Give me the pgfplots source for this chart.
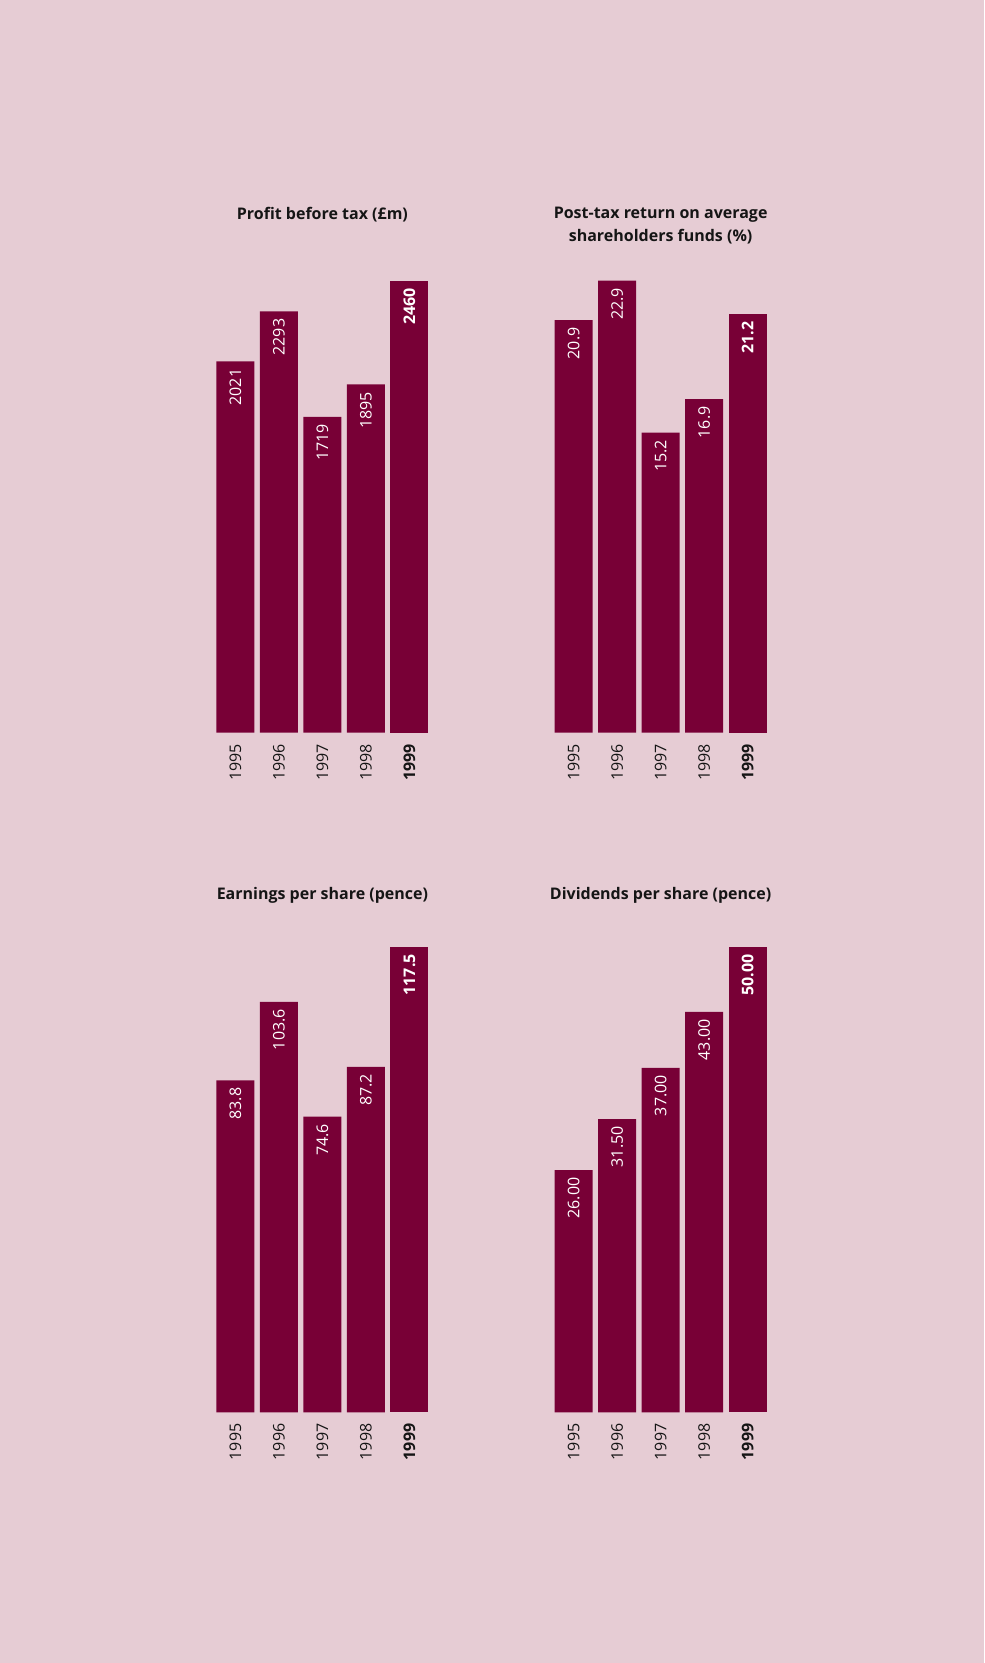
\documentclass[border=0pt]{standalone}
\usepackage{pgfplots}
\pgfplotsset{compat=1.18}
\usepackage{fontspec}
\setmainfont{Open Sans}
\definecolor{bg}{HTML}{E6CCD4}
\definecolor{barc}{HTML}{780036}
\definecolor{ink}{HTML}{151515}
\pgfplotsset{
  panel/.style={
    scale only axis, width=106.1pt, anchor=south west,
    ymin=0, xmin=-0.439, xmax=4.439, enlargelimits=false,
    ybar, bar width=0.878, bar shift=0pt,
    axis line style={draw=none}, major tick length=0pt, ytick=\empty,
    xtick={0,1,2,3,4}, xticklabels={1995,1996,1997,1998,\textbf{1999}},
    xticklabel style={rotate=90, anchor=east, inner xsep=5.5pt, inner ysep=0pt,
      font=\fontsize{8}{9.6}\selectfont, text=ink},
    clip=false,
    title style={at={(0.5,1)}, anchor=center, align=center,
      font=\fontsize{8}{11.1}\selectfont\bfseries, text=ink},
    nodes near coords, point meta=explicit symbolic,
    every node near coord/.append style={rotate=90, anchor=east, inner xsep=3.5pt,
      inner ysep=0pt, font=\fontsize{8}{9.6}\selectfont, text=white},
  },
  barstyle/.style={fill=barc, draw=none, bar shift=0pt},
  boldbar/.style={fill=barc, draw=none, bar shift=0pt,
    every node near coord/.append style={font=\fontsize{8}{9.6}\selectfont\bfseries}},
}
\begin{document}
\begin{tikzpicture}
\fill[bg] (0,0) rectangle (492pt,831.5pt);

% Profit before tax
\begin{axis}[panel, at={(108.15pt,465.15pt)}, height=226pt, ymax=2460,
  title={Profit before tax (\pounds m)}, title style={yshift=27.1pt}]
\addplot[barstyle] coordinates {(0,2021) [2021] (1,2293) [2293] (2,1719) [1719] (3,1895) [1895]};
\addplot[boldbar] coordinates {(4,2460) [2460]};
\end{axis}

% Post-tax return
\begin{axis}[panel, at={(277.25pt,465.15pt)}, height=226pt, ymax=22.9,
  title={Post-tax return on average\\shareholders funds (\%)}, title style={yshift=21.6pt}]
\addplot[barstyle] coordinates {(0,20.9) [20.9] (1,22.9) [22.9] (2,15.2) [15.2] (3,16.9) [16.9]};
\addplot[boldbar] coordinates {(4,21.2) [21.2]};
\end{axis}

% Earnings per share
\begin{axis}[panel, at={(108.15pt,125.35pt)}, height=232.75pt, ymax=117.5,
  title={Earnings per share (pence)}, title style={yshift=19.6pt}]
\addplot[barstyle] coordinates {(0,83.8) [83.8] (1,103.6) [103.6] (2,74.6) [74.6] (3,87.2) [87.2]};
\addplot[boldbar] coordinates {(4,117.5) [117.5]};
\end{axis}

% Dividends per share
\begin{axis}[panel, at={(277.25pt,125.35pt)}, height=232.75pt, ymax=50,
  title={Dividends per share (pence)}, title style={yshift=19.6pt}]
\addplot[barstyle] coordinates {(0,26) [26.00] (1,31.5) [31.50] (2,37) [37.00] (3,43) [43.00]};
\addplot[boldbar] coordinates {(4,50) [50.00]};
\end{axis}

\pgfresetboundingbox
\useasboundingbox (0,0) rectangle (492pt,831.5pt);
\end{tikzpicture}
\end{document}
